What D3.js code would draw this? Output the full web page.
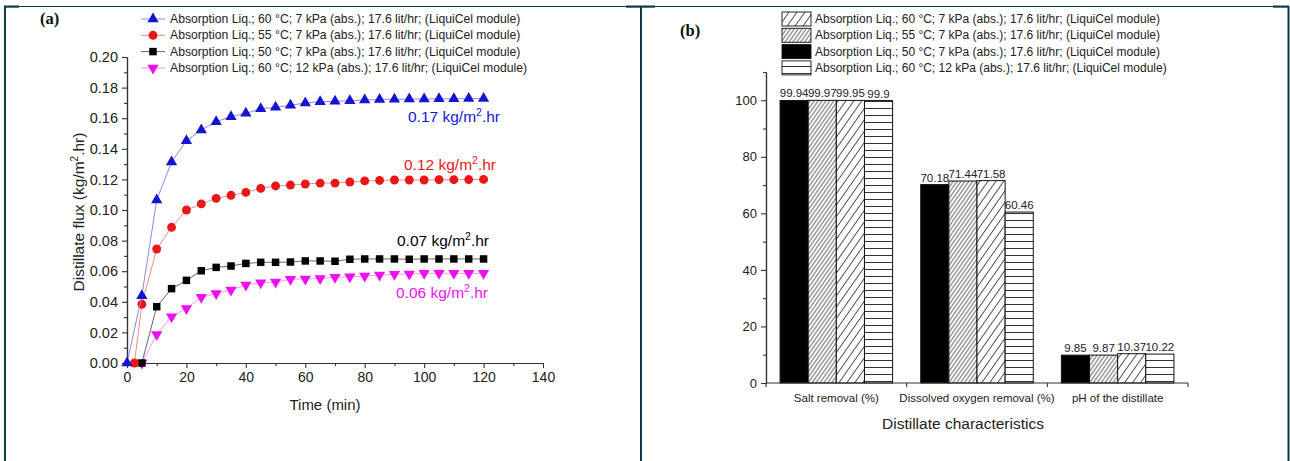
<!DOCTYPE html>
<html>
<head>
<meta charset="utf-8">
<script src="https://cdn.jsdelivr.net/npm/d3@7/dist/d3.min.js"></script>
<style>
  html, body { margin: 0; padding: 0; background: #fff; }
  svg { display: block; font-family: "Liberation Sans", Arial, sans-serif; }
</style>
</head>
<body>
<svg id="chart" width="1290" height="461"></svg>
<script>
// ---- Panel (a): distillate flux over time ----
const legendLabels = [
  "Absorption Liq.; 60 \u00B0C; 7 kPa (abs.); 17.6 lit/hr; (LiquiCel module)",
  "Absorption Liq.; 55 \u00B0C; 7 kPa (abs.); 17.6 lit/hr; (LiquiCel module)",
  "Absorption Liq.; 50 \u00B0C; 7 kPa (abs.); 17.6 lit/hr; (LiquiCel module)",
  "Absorption Liq.; 60 \u00B0C; 12 kPa (abs.); 17.6 lit/hr; (LiquiCel module)"
];

const time60 = [0, 5, 10, 15, 20, 25, 30, 35, 40, 45, 50, 55, 60, 65, 70, 75, 80, 85, 90, 95, 100, 105, 110, 115, 120];
const flux60 = [0, 0.044, 0.1065, 0.1314, 0.1453, 0.1523, 0.1577, 0.161, 0.1632, 0.1662, 0.1671, 0.1684, 0.170, 0.1708, 0.171, 0.1714, 0.1719, 0.1722, 0.1724, 0.1725, 0.1725, 0.1727, 0.1727, 0.1728, 0.1728];

const time55 = [2.5, 5, 10, 15, 20, 25, 30, 35, 40, 45, 50, 55, 60, 65, 70, 75, 80, 85, 90, 95, 100, 105, 110, 115, 120];
const flux55 = [0, 0.0384, 0.0745, 0.0887, 0.100, 0.104, 0.1076, 0.1096, 0.1115, 0.1141, 0.1157, 0.1163, 0.117, 0.1176, 0.1176, 0.1183, 0.119, 0.1193, 0.1196, 0.1196, 0.1196, 0.1198, 0.1198, 0.1199, 0.120];

const time50 = [5, 10, 15, 20, 25, 30, 35, 40, 45, 50, 55, 60, 65, 70, 75, 80, 85, 90, 95, 100, 105, 110, 115, 120];
const flux50 = [0, 0.0368, 0.0486, 0.054, 0.0603, 0.0625, 0.0634, 0.0651, 0.0658, 0.0658, 0.066, 0.0667, 0.0667, 0.0665, 0.0678, 0.068, 0.068, 0.068, 0.0678, 0.068, 0.068, 0.068, 0.068, 0.068];

const time60hp = [5, 10, 15, 20, 25, 30, 35, 40, 45, 50, 55, 60, 65, 70, 75, 80, 85, 90, 95, 100, 105, 110, 115, 120];
const flux60hp = [0, 0.0187, 0.0303, 0.0357, 0.0429, 0.0455, 0.0477, 0.051, 0.0525, 0.0529, 0.0547, 0.0549, 0.0553, 0.056, 0.0564, 0.0569, 0.0575, 0.058, 0.0582, 0.0586, 0.0586, 0.0586, 0.0586, 0.0586];

const fluxNotes = ["0.17", "0.12", "0.07", "0.06"];
const timeTicks = [0, 20, 40, 60, 80, 100, 120, 140];
const fluxTicks = [0, 0.02, 0.04, 0.06, 0.08, 0.10, 0.12, 0.14, 0.16, 0.18, 0.20];

// ---- Panel (b): distillate characteristics ----
const categories = ["Salt removal (%)", "Dissolved oxygen removal (%)", "pH of the distillate"];
const bars50 = [99.94, 70.18, 9.85];
const bars55 = [99.97, 71.44, 9.87];
const bars60 = [99.95, 71.58, 10.37];
const bars60hp = [99.9, 60.46, 10.22];
const percentTicks = [0, 20, 40, 60, 80, 100];

const svg = d3.select("#chart");
const FRAME = "#0e3a44";
const INK = "#222";

// ---------- outer frame ----------
const frame = svg.append("g");
frame.append("line").attr("x1", 4).attr("x2", 1289).attr("y1", 6.5).attr("y2", 6.5)
  .attr("stroke", FRAME).attr("stroke-width", 1.2);
[[4, 19], [626, 655], [1273, 1289]].forEach(([a, b]) => {
  frame.append("rect").attr("x", a).attr("y", 5.5).attr("width", b - a).attr("height", 2.2).attr("fill", FRAME);
});
[5, 641, 1288.5].forEach(x => {
  frame.append("line").attr("x1", x).attr("x2", x).attr("y1", 6).attr("y2", 461)
    .attr("stroke", FRAME).attr("stroke-width", 2);
});

// ================= Panel (a) =================
const ga = svg.append("g");
const x = d3.scaleLinear().domain([0, 140]).range([127, 543]);
const y = d3.scaleLinear().domain([0, 0.2]).range([363, 57]);

ga.append("text").text("(a)").attr("x", 40).attr("y", 24)
  .attr("font-family", "'Liberation Serif', 'Times New Roman', serif")
  .attr("font-weight", "bold").attr("font-size", 16.5).attr("fill", "#111");

function styleAxis(g) {
  g.selectAll("path.domain").attr("stroke", "#333").attr("stroke-width", 1.2);
  g.selectAll(".tick line").attr("stroke", "#333").attr("stroke-width", 1.1);
  g.selectAll(".tick text").attr("fill", INK).attr("font-family", "'Liberation Sans', Arial, sans-serif");
}

// minor ticks
ga.append("g").attr("transform", `translate(0,${y(0)})`)
  .call(d3.axisBottom(x).tickValues(d3.range(10, 140, 20)).tickSize(3).tickFormat("").tickSizeOuter(0))
  .call(styleAxis);
ga.append("g").attr("transform", `translate(${x(0)},0)`)
  .call(d3.axisLeft(y).tickValues(d3.range(0.01, 0.2, 0.02)).tickSize(3).tickFormat("").tickSizeOuter(0))
  .call(styleAxis);
// major ticks
ga.append("g").attr("transform", `translate(0,${y(0)})`)
  .call(d3.axisBottom(x).tickValues(timeTicks).tickSize(5).tickSizeOuter(0).tickPadding(4))
  .call(styleAxis)
  .selectAll("text").attr("font-size", 14);
ga.append("g").attr("transform", `translate(${x(0)},0)`)
  .call(d3.axisLeft(y).tickValues(fluxTicks).tickFormat(d3.format(".2f")).tickSize(5).tickSizeOuter(0).tickPadding(4))
  .call(styleAxis)
  .selectAll("text").attr("font-size", 14.5);

ga.append("text").text("Time (min)").attr("x", 325).attr("y", 410)
  .attr("text-anchor", "middle").attr("font-size", 15).attr("fill", INK);
const yl = ga.append("text").attr("transform", "translate(84,212) rotate(-90)")
  .attr("text-anchor", "middle").attr("font-size", 15.5).attr("fill", INK);
yl.append("tspan").text("Distillate flux (kg/m");
yl.append("tspan").text("2").attr("font-size", 10).attr("dy", -6);
yl.append("tspan").text(".hr)").attr("dy", 6);

const seriesA = [
  { t: time60, v: flux60, color: "#1414d2", line: "#8a8ae0", sym: d3.symbolTriangle, rot: 0, size: 55, note: fluxNotes[0] },
  { t: time55, v: flux55, color: "#e81818", line: "#ef8c8c", sym: d3.symbolCircle, rot: 0, size: 62, note: fluxNotes[1] },
  { t: time50, v: flux50, color: "#000000", line: "#666666", sym: d3.symbolSquare, rot: 0, size: 56, note: fluxNotes[2] },
  { t: time60hp, v: flux60hp, color: "#ee10ee", line: "#f09af0", sym: d3.symbolTriangle, rot: 180, size: 55, note: fluxNotes[3] }
];

const lineGen = d3.line().x(d => x(d[0])).y(d => y(d[1]));
// draw in reverse so blue sits on top
seriesA.slice().reverse().forEach(s => {
  const pts = s.t.map((t, i) => [t, s.v[i]]);
  ga.append("path").datum(pts).attr("d", lineGen)
    .attr("fill", "none").attr("stroke", s.line).attr("stroke-width", 1);
  ga.append("g").selectAll("path").data(pts).join("path")
    .attr("d", d3.symbol().type(s.sym).size(s.size))
    .attr("transform", d => `translate(${x(d[0])},${y(d[1])}) rotate(${s.rot})`)
    .attr("fill", s.color);
});

// flux annotations
const notePos = [[408, 122], [404, 170], [397, 246], [396, 298]];
seriesA.forEach((s, i) => {
  const t = ga.append("text").attr("x", notePos[i][0]).attr("y", notePos[i][1])
    .attr("font-size", 15.5).attr("fill", s.color);
  t.append("tspan").text(s.note + " kg/m");
  t.append("tspan").text("2").attr("font-size", 10.5).attr("dy", -6);
  t.append("tspan").text(".hr").attr("dy", 6);
});

// legend (a)
const legA = ga.append("g");
seriesA.forEach((s, i) => {
  const ly = 19 + i * 16.3;
  legA.append("line").attr("x1", 141).attr("x2", 165).attr("y1", ly).attr("y2", ly)
    .attr("stroke", s.line).attr("stroke-width", 1);
  legA.append("path").attr("d", d3.symbol().type(s.sym).size(s.size))
    .attr("transform", `translate(153,${ly}) rotate(${s.rot})`).attr("fill", s.color);
  legA.append("text").text(legendLabels[i]).attr("x", 170).attr("y", ly + 4)
    .attr("font-size", 12.2).attr("fill", INK);
});

// ================= Panel (b) =================
const gb = svg.append("g");
gb.append("text").text("(b)").attr("x", 680).attr("y", 36)
  .attr("font-family", "'Liberation Serif', 'Times New Roman', serif")
  .attr("font-weight", "bold").attr("font-size", 16.5).attr("fill", "#111");

const defs = svg.append("defs");
function hatch(id, spacing, angle, stroke, width) {
  const p = defs.append("pattern").attr("id", id).attr("patternUnits", "userSpaceOnUse")
    .attr("width", spacing).attr("height", spacing)
    .attr("patternTransform", `rotate(${angle})`);
  p.append("rect").attr("width", spacing).attr("height", spacing).attr("fill", "#fff");
  p.append("line").attr("x1", 0).attr("x2", spacing).attr("y1", spacing / 2).attr("y2", spacing / 2)
    .attr("stroke", stroke).attr("stroke-width", width);
}
hatch("denseHatch", 3.2, -55, "#555", 0.9);
hatch("sparseHatch", 6.5, -55, "#444", 0.9);
hatch("hLines", 7, 0, "#333", 1);

const seriesB = [
  { key: "s50", v: bars50, fill: "#000" },
  { key: "s55", v: bars55, fill: "url(#denseHatch)" },
  { key: "s60", v: bars60, fill: "url(#sparseHatch)" },
  { key: "s60hp", v: bars60hp, fill: "url(#hLines)" }
];

const xb = d3.scaleBand().domain(categories).range([766, 1188]).padding(0);
const bw = xb.bandwidth();
const xs = d3.scaleBand().domain(seriesB.map(s => s.key)).range([bw * 0.1, bw * 0.9]).padding(0);
const yb = d3.scaleLinear().domain([0, 110]).range([383, 72]);

// bars
categories.forEach((c, ci) => {
  seriesB.forEach(s => {
    const v = s.v[ci];
    gb.append("rect")
      .attr("x", xb(c) + xs(s.key)).attr("y", yb(v))
      .attr("width", xs.bandwidth()).attr("height", yb(0) - yb(v))
      .attr("fill", s.fill).attr("stroke", "#111").attr("stroke-width", 1);
    gb.append("text").text(String(v))
      .attr("x", xb(c) + xs(s.key) + xs.bandwidth() / 2).attr("y", yb(v) - 3)
      .attr("text-anchor", "middle").attr("font-size", 11.5).attr("fill", INK);
  });
});

// y axis
gb.append("g").attr("transform", `translate(766,0)`)
  .call(d3.axisLeft(yb).tickValues(d3.range(10, 111, 20)).tickSize(3).tickFormat("").tickSizeOuter(0))
  .call(styleAxis);
gb.append("g").attr("transform", `translate(766,0)`)
  .call(d3.axisLeft(yb).tickValues(percentTicks).tickSize(5).tickSizeOuter(0).tickPadding(4))
  .call(styleAxis)
  .selectAll("text").attr("font-size", 13);

// x axis: category centres tick inward, band edges tick outward
const xAxisB = gb.append("g").attr("transform", `translate(0,${yb(0)})`);
xAxisB.append("line").attr("x1", 766).attr("x2", 1188).attr("stroke", "#333").attr("stroke-width", 1.2);
categories.forEach(c => {
  const cx = xb(c) + bw / 2;
  xAxisB.append("line").attr("x1", cx).attr("x2", cx).attr("y1", 0).attr("y2", -5)
    .attr("stroke", "#333").attr("stroke-width", 1.1);
  xAxisB.append("text").text(c).attr("x", cx).attr("y", 19)
    .attr("text-anchor", "middle").attr("font-size", 11.5).attr("fill", INK);
});
xb.domain().map(c => xb(c)).concat([1188]).forEach(ex => {
  xAxisB.append("line").attr("x1", ex).attr("x2", ex).attr("y1", 0).attr("y2", 4)
    .attr("stroke", "#333").attr("stroke-width", 1.1);
});

gb.append("text").text("Distillate characteristics").attr("x", 963).attr("y", 429)
  .attr("text-anchor", "middle").attr("font-size", 15.5).attr("fill", INK);

// legend (b)
const legOrder = [2, 1, 0, 3];
const legB = gb.append("g");
legOrder.forEach((si, i) => {
  const ly = 19 + i * 16.3;
  legB.append("rect").attr("x", 782).attr("y", ly - 7).attr("width", 29).attr("height", 14)
    .attr("fill", seriesB[si].fill).attr("stroke", "#111").attr("stroke-width", 0.9);
  legB.append("text").text(legendLabels[i]).attr("x", 815).attr("y", ly + 4)
    .attr("font-size", 12).attr("fill", INK);
});
</script>
</body>
</html>
